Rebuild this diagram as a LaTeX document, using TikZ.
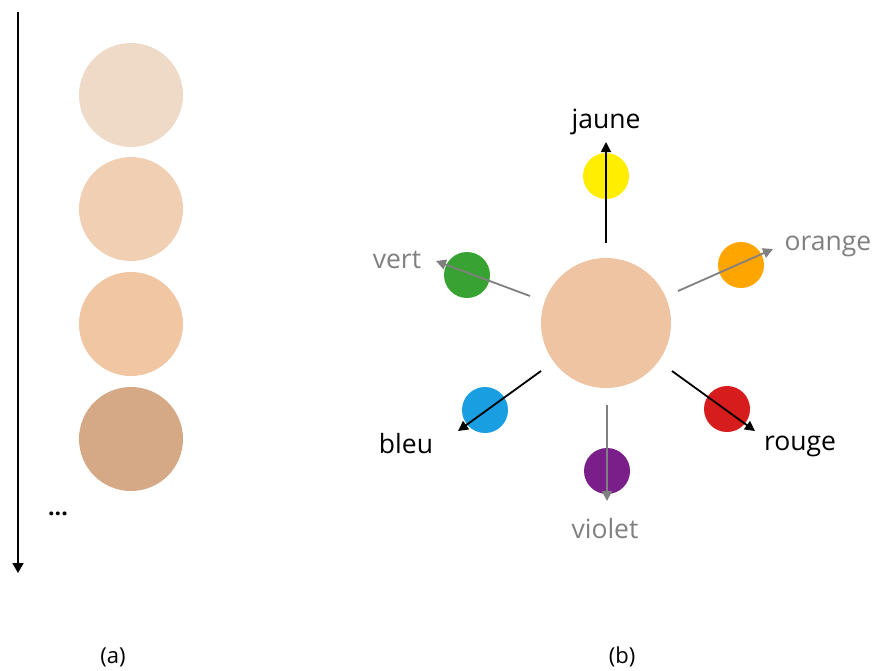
\documentclass[tikz,border=0pt]{standalone}
\usepackage{fontspec}
\setmainfont{Open Sans}
\usetikzlibrary{arrows.meta}
\definecolor{skinA}{HTML}{EFDAC7}
\definecolor{skinB}{HTML}{F0CFB3}
\definecolor{skinC}{HTML}{F1C6A3}
\definecolor{skinD}{HTML}{D5A886}
\definecolor{skinM}{HTML}{EFC4A3}
\definecolor{cyel}{HTML}{FFEE00}
\definecolor{cora}{HTML}{FFA500}
\definecolor{cred}{HTML}{D61C1C}
\definecolor{cvio}{HTML}{7A1E8A}
\definecolor{cblu}{HTML}{1A9EE2}
\definecolor{cgre}{HTML}{38A332}
\definecolor{lgray}{HTML}{808080}
\tikzset{
  swatch/.style={circle, inner sep=0pt, minimum size=104pt, fill=#1},
  dot/.style={circle, inner sep=0pt, minimum size=46pt, fill=#1},
  darr/.style={line width=1.8pt, black, -{Triangle[length=10pt,width=10pt]}},
  garr/.style={line width=1.8pt, lgray, -{Triangle[length=10pt,width=10pt]}},
  lbl/.style={font=\fontsize{26.5}{31}\selectfont, inner sep=0pt},
  captext/.style={font=\fontsize{22}{26}\selectfont, inner sep=0pt}
}
\begin{document}
\begin{tikzpicture}[x=1pt,y=-1pt]
\useasboundingbox[fill=white] (0,0) rectangle (877,670);
% (a)
\coordinate (atop) at (18,12);
\coordinate (abot) at (18,573);
\draw[line width=1.6pt, -{Triangle[length=10pt,width=11pt]}] (atop) -- (abot);
\node[swatch=skinA] (s1) at (131,95) {};
\node[swatch=skinB] (s2) at (131,209) {};
\node[swatch=skinC] (s3) at (131,324) {};
\node[swatch=skinD] (s4) at (131,439) {};
\node[font=\fontsize{23}{26}\selectfont\bfseries, inner sep=0pt] (dots) at (58,514) {...};
\node[captext] (capa) at (113,657) {(a)};
% (b)
\node[swatch=skinM, minimum size=130pt] (c) at (606,323) {};
\node[dot=cyel] (dj) at (606,176) {};
\node[dot=cora] (do) at (741,265) {};
\node[dot=cred] (dr) at (727,409) {};
\node[dot=cvio] (dv) at (607,471) {};
\node[dot=cblu] (db) at (485,410) {};
\node[dot=cgre] (dg) at (467,275) {};
\coordinate (sj) at (606,243); \coordinate (tj) at (606,142);
\coordinate (so) at (678,291); \coordinate (to) at (773,249);
\coordinate (sr) at (672,371); \coordinate (tr) at (755,431);
\coordinate (sv) at (607,405); \coordinate (tv) at (607,501);
\coordinate (sb) at (541,371); \coordinate (tb) at (458,431);
\coordinate (sg) at (530,296); \coordinate (tg) at (436,261);
\draw[darr] (sj) -- (tj);
\draw[garr] (so) -- (to);
\draw[darr] (sr) -- (tr);
\draw[garr] (sv) -- (tv);
\draw[darr] (sb) -- (tb);
\draw[garr] (sg) -- (tg);
\node[lbl] (lj) at (606,122) {jaune};
\node[lbl, text=lgray] (lo) at (828,246) {orange};
\node[lbl] (lr) at (800,446) {rouge};
\node[lbl, text=lgray] (lv) at (605,529) {violet};
\node[lbl] (lb) at (406,444) {bleu};
\node[lbl, text=lgray] (lg) at (397,260) {vert};
\node[captext] (capb) at (622,657) {(b)};
\end{tikzpicture}
\end{document}
